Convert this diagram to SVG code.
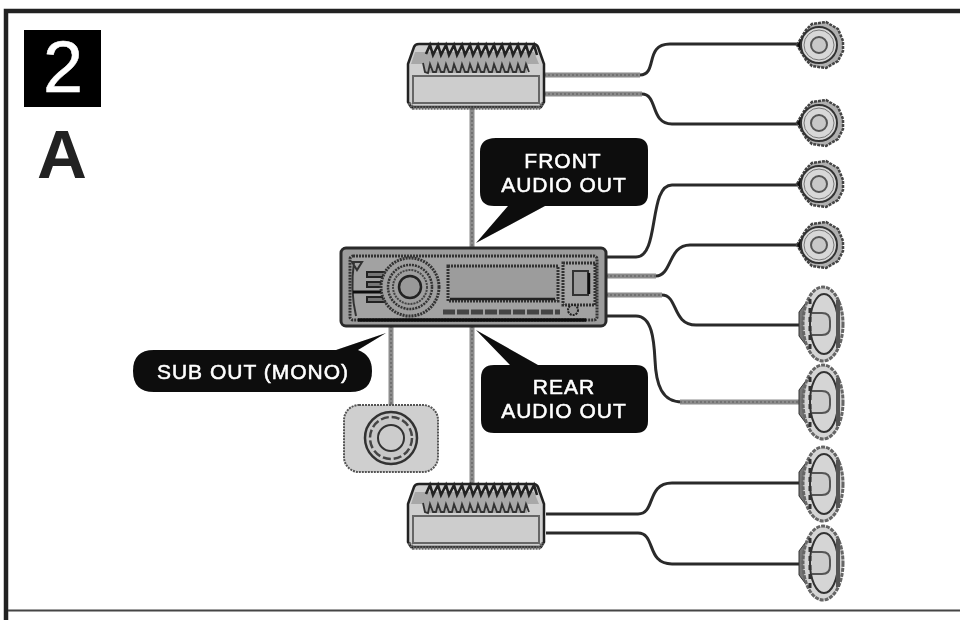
<svg xmlns="http://www.w3.org/2000/svg" xmlns:xlink="http://www.w3.org/1999/xlink" width="960" height="620" viewBox="0 0 960 620">
<style>
.g{fill:none;stroke:#8c8c8c;stroke-width:5}
.gi{fill:none;stroke:#6a6a6a;stroke-width:1.5;stroke-dasharray:2 2}
.k{fill:none;stroke:#2a2a2a;stroke-width:3}
.t{font-family:"Liberation Sans",Arial,sans-serif;fill:#fff;font-size:21px;text-anchor:middle;stroke:#fff;stroke-width:.55;letter-spacing:1px}
.bub{fill:#0a0a0a}
</style>
<defs>
<filter id="soft" filterUnits="userSpaceOnUse" x="0" y="0" width="960" height="620"><feGaussianBlur stdDeviation="0.55"/></filter>
<g id="amp">
<path d="M408,64 L414,47 Q415,44 419,44 L533,44 Q537,44 538,47 L544,64 L544,102 L541,107 L411,107 L408,102Z" fill="#cfcfcf" stroke="#222" stroke-width="2.5"/>
<path d="M409,103 L413,108 L539,108 L543,103" fill="none" stroke="#666" stroke-width="3.5" stroke-dasharray="2 1"/>
<path d="M415,52 L534,52 L539,64 L528,64 L527,73 L424,73 L423,64 L411,64Z" fill="#a8a8a8"/>
<path d="M426,54 l4,-9 l3,10 l5,-10 l3,10 l5,-10 l3,10 l5,-10 l3,10 l5,-10 l3,10 l5,-10 l3,10 l5,-10 l3,10 l5,-10 l3,10 l5,-10 l3,10 l5,-10 l3,10 l5,-10 l3,10 l5,-10 l3,10 l5,-10 l3,10 l5,-10 l3,10" fill="none" stroke="#222" stroke-width="2.6"/>
<path d="M423,63 l2,9 l3,1 l2,-9 l3,8 l3,0 l2,-8 l3,8 l3,0 l2,-8 l3,8 l3,0 l2,-8 l3,8 l3,0 l2,-8 l3,8 l3,0 l2,-8 l3,8 l3,0 l2,-8 l3,8 l3,0 l2,-8 l3,8 l3,0 l2,-8 l3,8 l3,0 l2,-8 l3,8 l3,0 l2,-8 l3,8 l3,0 l2,-8 l3,8 l3,0 l2,-8 l3,8" fill="none" stroke="#333" stroke-width="1.8"/>
<rect x="413" y="76" width="126" height="27" fill="#cdcdcd" stroke="#666" stroke-width="2"/>
</g>
<g id="round">
<path d="M797,0 L806,-15 L812,-21 L826,-23 L838,-16 L843,-4 L843,6 L838,16 L826,23 L812,21 L806,15Z" fill="#b0b0b0" stroke="#444" stroke-width="2.5" stroke-dasharray="3 1"/>
<path d="M797,0 L806,-13 L806,13Z" fill="#111"/>
<circle cx="819" cy="0" r="18" fill="#d8d8d8" stroke="#333" stroke-width="2"/>
<circle cx="819" cy="0" r="15" fill="none" stroke="#777" stroke-width="1"/>
<circle cx="819" cy="0" r="8" fill="#c8c8c8" stroke="#555" stroke-width="2"/>
</g>
<g id="oval">
<path d="M799,-12 L805,-20 L805,20 L799,12Z" fill="#777" stroke="#333"/>
<ellipse cx="823" cy="0" rx="20" ry="37" fill="#d5d5d5" stroke="#666" stroke-width="3" stroke-dasharray="4 1"/>
<ellipse cx="824" cy="0" rx="14" ry="30" fill="#d5d5d5" stroke="#333" stroke-width="2"/>
<path d="M838,-24 V24" stroke="#555" stroke-width="4" fill="none"/>
<path d="M812,-11 H822 Q830,-11 830,-3 V3 Q830,11 822,11 H812" fill="#ccc" stroke="#555" stroke-width="2"/>
<path d="M810,-25 V25" stroke="#333" stroke-width="3" stroke-dasharray="5 4" fill="none"/>
</g>
</defs>
<rect width="960" height="620" fill="#fff"/>
<g filter="url(#soft)">
<path d="M6,620 V11 H960" fill="none" stroke="#222" stroke-width="4.5"/>
<path d="M8,610.5 H960" fill="none" stroke="#444" stroke-width="2"/>
<g id="badge-2">
<rect x="24" y="30" width="77" height="77" fill="#000"/>
<text x="63" y="92" font-family="Liberation Sans, Arial, sans-serif" font-size="72" fill="#fff" stroke="#fff" stroke-width="0.5" text-anchor="middle">2</text>
</g>
<g id="label-a">
<text x="62" y="178" font-family="Liberation Sans, Arial, sans-serif" font-size="69" font-weight="bold" fill="#222" text-anchor="middle">A</text>
</g>
<g id="connectors">
<path class="g" d="M472,108 V248 M472,326 V483 M391,326 V405"/>
<path class="gi" d="M472,108 V248 M472,326 V483 M391,326 V405"/>
<path class="g" d="M544,75 H640"/><path class="gi" d="M544,75 H640"/>
<path class="k" d="M640,75 C658,75 644,44 670,44 H798"/>
<path class="g" d="M544,94 H642"/><path class="gi" d="M544,94 H642"/>
<path class="k" d="M642,94 C658,94 650,124 672,124 H798"/>
<path class="k" d="M606,257 H636 C660,257 648,185 672,185 H798"/>
<path class="g" d="M606,276 H656"/><path class="gi" d="M606,276 H656"/>
<path class="k" d="M656,276 C672,276 668,245 690,245 H798"/>
<path class="g" d="M606,295 H662"/><path class="gi" d="M606,295 H662"/>
<path class="k" d="M662,295 C678,295 672,325 696,325 H800"/>
<path class="k" d="M606,316 H636 C652,316 654,340 655,360 C656,385 662,402 682,402"/>
<path class="g" d="M680,402 H802"/><path class="gi" d="M680,402 H802"/>
<path class="k" d="M546,514 H638 C656,514 646,483 672,483 H804"/>
<path class="k" d="M546,533 H638 C656,533 646,564 672,564 H804"/>
</g>
<g id="amp-front"><use xlink:href="#amp" href="#amp"/></g>
<g id="amp-rear"><use xlink:href="#amp" href="#amp" transform="translate(0,440)"/></g>
<g id="speaker-1"><use xlink:href="#round" href="#round" transform="translate(0,45)"/></g>
<g id="speaker-2"><use xlink:href="#round" href="#round" transform="translate(0,123)"/></g>
<g id="speaker-3"><use xlink:href="#round" href="#round" transform="translate(0,184)"/></g>
<g id="speaker-4"><use xlink:href="#round" href="#round" transform="translate(0,245)"/></g>
<g id="speaker-5"><use xlink:href="#oval" href="#oval" transform="translate(0,324)"/></g>
<g id="speaker-6"><use xlink:href="#oval" href="#oval" transform="translate(0,402)"/></g>
<g id="speaker-7"><use xlink:href="#oval" href="#oval" transform="translate(0,484)"/></g>
<g id="speaker-8"><use xlink:href="#oval" href="#oval" transform="translate(0,563)"/></g>
<g id="head-unit">
<rect x="341" y="248" width="265" height="78" rx="5" fill="#9c9c9c" stroke="#2a2a2a" stroke-width="3"/>
<rect x="350" y="256" width="247" height="64" rx="3" fill="#a2a2a2" stroke="#333" stroke-width="3" stroke-dasharray="2 1"/>
<path d="M358,320 H586" stroke="#111" stroke-width="3.5" fill="none"/>
<path d="M352,262 L362,262 L357,270Z M354,262 Q350,290 356,316" fill="none" stroke="#333" stroke-width="2"/>
<path d="M353,292 H384" stroke="#111" stroke-width="3"/>
<g fill="#777" stroke="#222" stroke-width="2"><rect x="367" y="272" width="18" height="5"/><rect x="367" y="282" width="18" height="5"/><rect x="367" y="297" width="18" height="5"/></g>
<circle cx="410" cy="287" r="29" fill="#9f9f9f" stroke="#333" stroke-width="3" stroke-dasharray="2 1"/>
<circle cx="410" cy="287" r="22" fill="none" stroke="#333" stroke-width="2.5" stroke-dasharray="2 1"/>
<circle cx="410" cy="287" r="17" fill="none" stroke="#444" stroke-width="2" stroke-dasharray="2 1"/>
<circle cx="410" cy="287" r="11" fill="#999" stroke="#222" stroke-width="2.5"/>
<rect x="448" y="266" width="110" height="35" fill="#9c9c9c" stroke="#333" stroke-width="3" stroke-dasharray="2 1"/>
<path d="M450,299 H555" stroke="#222" stroke-width="2.5"/>
<rect x="563" y="263" width="32" height="42" fill="#a5a5a5" stroke="#333" stroke-width="3" stroke-dasharray="2 1"/>
<rect x="573" y="271" width="15" height="24" fill="#9a9a9a" stroke="#333" stroke-width="2"/>
<path d="M589,273 V294" stroke="#111" stroke-width="2.5"/>
<path d="M443,312 H560" stroke="#444" stroke-width="5" stroke-dasharray="12 2"/>
<circle cx="573" cy="310" r="5" fill="#999" stroke="#222" stroke-width="2" stroke-dasharray="2 1"/>
</g>
<g id="subwoofer">
<rect x="344" y="405" width="94" height="67" rx="15" fill="#cfcfcf" stroke="#555" stroke-width="2" stroke-dasharray="2 1"/>
<circle cx="391" cy="438" r="26" fill="#c8c8c8" stroke="#333" stroke-width="2.5"/>
<circle cx="391" cy="438" r="21" fill="none" stroke="#444" stroke-width="2.5" stroke-dasharray="8 3"/>
<circle cx="391" cy="438" r="13" fill="#ccc" stroke="#333" stroke-width="2"/>
</g>
<g id="callout-front">
<path class="bub" d="M496,138 H636 Q648,138 648,150 V194 Q648,206 636,206 H545 L476,243 L508,206 H494 Q480,206 480,192 V152 Q480,138 496,138Z"/>
<text class="t" x="563" y="168">FRONT</text>
<text class="t" x="564" y="192">AUDIO OUT</text>
</g>
<g id="callout-rear">
<path class="bub" d="M476,330 L538,365 H636 Q648,365 648,377 V421 Q648,433 636,433 H494 Q481,433 481,420 V378 Q481,365 494,365 H510Z"/>
<text class="t" x="564" y="394">REAR</text>
<text class="t" x="564" y="418">AUDIO OUT</text>
</g>
<g id="callout-sub">
<path class="bub" d="M154,350 H336 L386,333 L358,350 Q372,355 372,371 Q372,392 350,392 H154 Q133,392 133,371 Q133,350 154,350Z"/>
<text class="t" x="253" y="379">SUB OUT (MONO)</text>
</g>
</g>
</svg>
